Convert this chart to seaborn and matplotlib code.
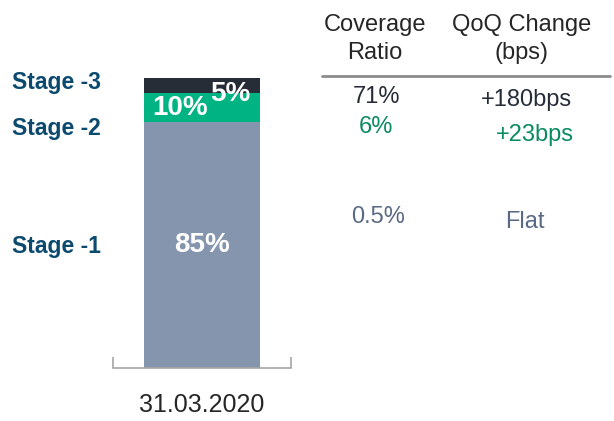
import matplotlib
matplotlib.use("Agg")
import matplotlib.pyplot as plt
import seaborn as sns
import pandas as pd

# data
period = "31.03.2020"
stages = ["Stage -1", "Stage -2", "Stage -3"]
shares = [85, 10, 5]
coverage = ["0.5%", "6%", "71%"]
qoq_change = ["Flat", "+23bps", "+180bps"]

colors = ["#8595AE", "#00B383", "#262D37"]
text_colors = ["#5A6A84", "#0A8A5F", "#262D37"]

sns.set_style("white")
plt.rcParams["font.family"] = ["Liberation Sans Narrow", "Liberation Sans", "DejaVu Sans"]

W, H = 614, 421
fig = plt.figure(figsize=(W / 100, H / 100), dpi=100)


def px(x, y):
    return x / W, 1 - y / H


# axes spans the bracket under the bar (pixels 113..291, 78..368)
ax = fig.add_axes([113 / W, 1 - 368 / H, 178 / W, 290 / H])

# stacked bar: draw cumulative totals from tallest to shortest
df = pd.DataFrame({"period": [period] * 3, "stage": stages, "share": shares})
df["cum"] = df["share"].cumsum()
for i in reversed(range(len(df))):
    sns.barplot(data=df.iloc[[i]], x="period", y="cum", color=colors[i],
                width=0.652, saturation=1, linewidth=0, ax=ax)

ax.set_xlim(-0.5, 0.5)
ax.set_ylim(0, 100)
ax.set_xlabel("")
ax.set_ylabel("")
ax.set_yticks([])
ax.set_xticks([0])
ax.set_xticklabels([period], fontsize=18, color="#262626")
ax.tick_params(axis="x", which="both", bottom=True)
ax.tick_params(axis="x", which="major", length=0, pad=18)
ax.set_xticks([-0.5, 0.5], minor=True)
ax.tick_params(axis="x", which="minor", direction="in", length=8, width=1.2, color="#A6A6A6")
for s in ["top", "left", "right"]:
    ax.spines[s].set_visible(False)
ax.spines["bottom"].set_color("#A6A6A6")
ax.spines["bottom"].set_linewidth(1.2)

# percentage labels inside the bar (offsets as placed in the original)
label_pos = [(0.0, 42.4), (-0.121, 89.7), (0.157, 94.5)]
for i, (dx, yy) in enumerate(label_pos):
    ax.text(dx, yy, f"{shares[i]}%", ha="center", va="center", color="white",
            fontsize=20, fontweight="bold")

# stage labels on the left
stage_y = [246, 129, 83]
for name, y in zip(stages, stage_y):
    fig.text(*px(12, y), name, ha="left", va="center", fontsize=16.5,
             fontweight="bold", color="#0B4A6E")

# table on the right
fig.text(*px(375, 39), "Coverage\nRatio", ha="center", va="center",
         fontsize=17, color="#262626", linespacing=1.35)
fig.text(*px(522, 39), "QoQ Change\n(bps)", ha="center", va="center",
         fontsize=17, color="#262626", linespacing=1.35)
fig.add_artist(plt.Line2D([322 / W, 610 / W], [1 - 76 / H] * 2, color="#8C8C8C", lw=2))

cov_pos = [(378, 217), (376, 127), (376, 97)]
qoq_pos = [(525, 222), (535, 135), (526, 100)]
for i in range(3):
    fig.text(*px(*cov_pos[i]), coverage[i], ha="center", va="center",
             fontsize=17, color=text_colors[i])
    fig.text(*px(*qoq_pos[i]), qoq_change[i], ha="center", va="center",
             fontsize=17, color=text_colors[i])

fig.savefig("out.png", dpi=100)
